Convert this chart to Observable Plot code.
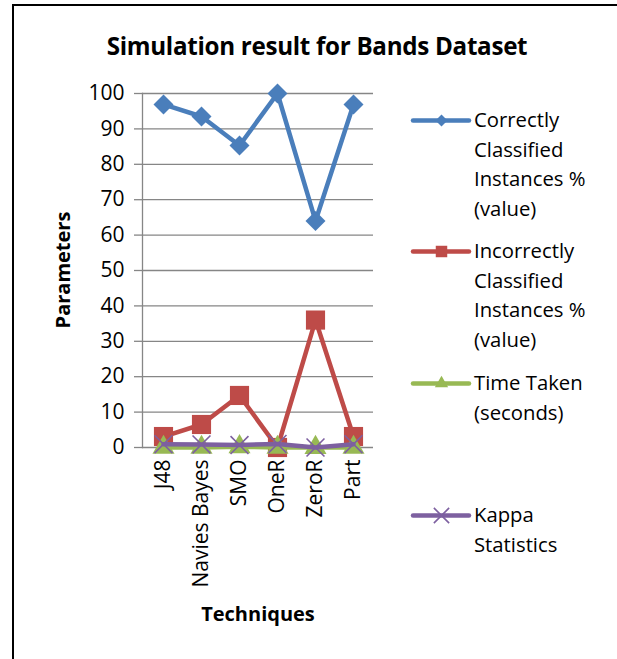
<!DOCTYPE html>
<html>
<head>
<meta charset="utf-8">
<script src="https://cdn.jsdelivr.net/npm/d3@7"></script>
<script src="https://cdn.jsdelivr.net/npm/@observablehq/plot@0.6"></script>
<style>
  html, body { margin: 0; padding: 0; background: #fff; }
  body { width: 617px; height: 659px; overflow: hidden; font-family: "Open Sans", Lato, sans-serif; }
  #wrap { position: relative; width: 617px; height: 659px; }
  #frame { position: absolute; left: 12px; top: 4px; width: 620px; height: 670px; border-left: 2px solid #000; border-top: 2px solid #000; box-sizing: border-box; }
  #chart { position: absolute; left: 0; top: 0; }
  .title { position: absolute; left: 317px; top: 45px; transform: translate(-50%, -50%); font-weight: bold; font-size: 24.2px; white-space: nowrap; color: #000; letter-spacing: -0.3px; }
  .ylab { position: absolute; left: 62px; top: 270px; transform: translate(-50%, -50%) rotate(-90deg); font-weight: bold; font-size: 20px; white-space: nowrap; color: #000; }
  .xlab { position: absolute; left: 258px; top: 613px; transform: translate(-50%, -50%); font-weight: bold; font-size: 20px; white-space: nowrap; color: #000; }
  .leg { position: absolute; left: 413px; display: flex; align-items: flex-start; }
  .leg svg { flex: none; margin-top: 4.75px; }
  .leg .txt { margin-left: 5px; font-size: 20.3px; line-height: 29.5px; color: #000; white-space: nowrap; }
</style>
</head>
<body>
<div id="wrap">
  <div id="frame"></div>
  <div id="chart"></div>
  <div class="title">Simulation result for Bands Dataset</div>
  <div class="ylab">Parameters</div>
  <div class="xlab">Techniques</div>
  <div id="legend"></div>
</div>
<script>
const categories = ["J48", "Navies Bayes", "SMO", "OneR", "ZeroR", "Part"];
const correctlyClassified = [96.9, 93.5, 85.3, 100, 64, 96.9];
const incorrectlyClassified = [3.1, 6.5, 14.7, 0, 36, 3.1];
const timeTaken = [0.02, 0.01, 0.2, 0.01, 0, 0.03];
const kappaStatistics = [0.93, 0.87, 0.7, 1, 0, 0.93];
const yTicks = [0, 10, 20, 30, 40, 50, 60, 70, 80, 90, 100];

const seriesNames = [
  ["Correctly", "Classified", "Instances %", "(value)"],
  ["Incorrectly", "Classified", "Instances %", "(value)"],
  ["Time Taken", "(seconds)"],
  ["Kappa", "Statistics"]
];
const seriesValues = [correctlyClassified, incorrectlyClassified, timeTaken, kappaStatistics];
const seriesColors = ["#4A7EBB", "#BE4B48", "#98B954", "#7D60A0"];
const seriesSymbols = ["diamond2", "square", "triangle", "times"];
const symbolR = [9, 10.8, 8.2, 8.2];
const legendTops = [105.25, 236.25, 368.25, 500.25];

const series = seriesValues.map((vals, i) =>
  categories.map((c, j) => ({technique: c, value: vals[j], s: i}))
);

const font = "'Open Sans', Lato, sans-serif";
const marks = [
  Plot.gridY(yTicks, {stroke: "#868686", strokeOpacity: 1, strokeWidth: 1.3}),
  Plot.axisY(yTicks, {tickSize: 8, tickPadding: 10, stroke: "#868686", strokeWidth: 1.3, fill: "#000", fontSize: 21, label: null}),
  Plot.axisX({tickSize: 0, tickRotate: -90, tickPadding: 12, fill: "#000", fontSize: 21, label: null}),
  Plot.frame({anchor: "left", stroke: "#868686", strokeWidth: 1.3})
];
series.forEach((d, i) => {
  marks.push(Plot.line(d, {x: "technique", y: "value", stroke: seriesColors[i], strokeWidth: 4.5, strokeLinejoin: "round", strokeLinecap: "round"}));
  if (seriesSymbols[i] === "times") {
    marks.push(Plot.dot(d, {x: "technique", y: "value", symbol: "times", r: symbolR[i], stroke: seriesColors[i], strokeWidth: 1.6}));
  } else {
    marks.push(Plot.dot(d, {x: "technique", y: "value", symbol: seriesSymbols[i], r: symbolR[i], fill: seriesColors[i], stroke: "none"}));
  }
});

const chart = Plot.plot({
  width: 617,
  height: 659,
  marginLeft: 142,
  marginRight: 244,
  marginTop: 93,
  marginBottom: 212,
  style: {fontFamily: font, fontSize: "21px", background: "transparent", color: "#000"},
  x: {type: "point", domain: categories, padding: 0.5},
  y: {domain: [0, 100]},
  marks
});
document.getElementById("chart").appendChild(chart);

// Legend
const legend = document.getElementById("legend");
seriesNames.forEach((lines, i) => {
  const item = document.createElement("div");
  item.className = "leg";
  item.style.top = legendTops[i] + "px";
  const sw = Plot.plot({
    width: 56, height: 20, margin: 0,
    x: {domain: [0, 1], axis: null}, y: {domain: [0, 1], axis: null},
    style: {background: "transparent", overflow: "visible"},
    marks: [
      Plot.ruleY([0.5], {x1: 0, x2: 1, stroke: seriesColors[i], strokeWidth: 4.5, strokeLinecap: "round"}),
      seriesSymbols[i] === "times"
        ? Plot.dot([0.5], {x: d => d, y: 0.5, symbol: "times", r: 7, stroke: seriesColors[i], strokeWidth: 1.6})
        : Plot.dot([0.5], {x: d => d, y: 0.5, symbol: seriesSymbols[i], r: symbolR[i] * 0.6, fill: seriesColors[i]})
    ]
  });
  item.appendChild(sw);
  const t = document.createElement("div");
  t.className = "txt";
  t.innerHTML = lines.join("<br>");
  item.appendChild(t);
  legend.appendChild(item);
});
</script>
</body>
</html>
